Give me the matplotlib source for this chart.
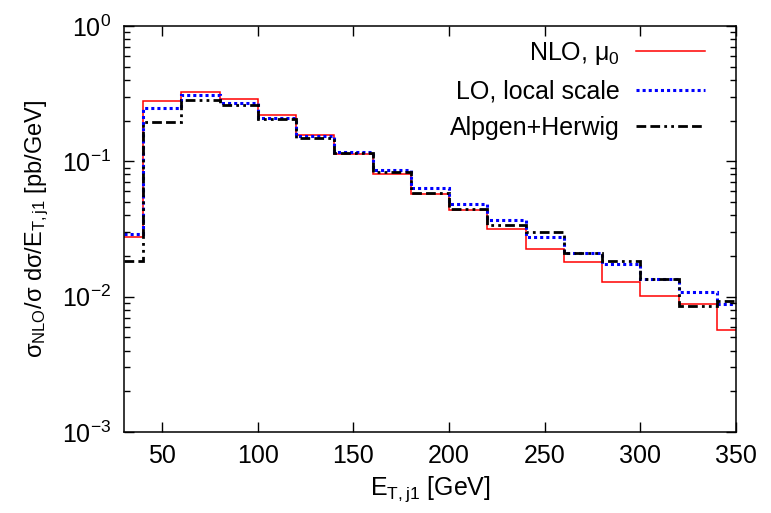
import numpy as np
import matplotlib
matplotlib.use("Agg")
import matplotlib.pyplot as plt
from matplotlib.ticker import LogLocator, FixedLocator, NullFormatter

plt.rcParams["font.family"] = "Liberation Sans"
plt.rcParams["mathtext.fontset"] = "custom"
plt.rcParams["mathtext.rm"] = "Liberation Sans"
plt.rcParams["mathtext.it"] = "Liberation Sans"
plt.rcParams["mathtext.default"] = "regular"
plt.rcParams["font.size"] = 18

# bin edges in E_T of leading jet [GeV]
edges = [30, 40, 60, 80, 100, 120, 140, 160, 180, 200, 220, 240, 260, 280, 300, 320, 340, 350]

nlo_mu0 = [0.0277, 0.279, 0.325, 0.287, 0.220, 0.156, 0.113, 0.0805, 0.0573, 0.0436,
           0.0314, 0.0225, 0.0179, 0.0129, 0.0102, 0.00877, 0.00566]
lo_local = [0.0289, 0.249, 0.307, 0.268, 0.208, 0.154, 0.117, 0.0863, 0.0638, 0.0483,
            0.0368, 0.0274, 0.0212, 0.0173, 0.0135, 0.0109, 0.0089]
alpgen_herwig = [0.0183, 0.196, 0.284, 0.259, 0.204, 0.150, 0.115, 0.083, 0.0586, 0.0444,
                 0.0337, 0.0299, 0.0212, 0.0185, 0.0135, 0.00857, 0.0093]

fig = plt.figure(figsize=(7.71, 5.13), dpi=100)
ax = fig.add_axes([0.1608, 0.1579, 0.7938, 0.7914])

ax.stairs(nlo_mu0, edges, baseline=None, color="#ff0000", lw=1.1, label=r"NLO, $\mu_0$")
ax.stairs(lo_local, edges, baseline=None, color="#0000ff", lw=2.2, linestyle=(0, (1, 1)),
          label="LO, local scale")
ax.stairs(alpgen_herwig, edges, baseline=None, color="black", lw=2.0,
          linestyle=(0, (3.5, 1.5, 3.5, 1.5, 1, 1.5, 1, 1.5)), label="Alpgen+Herwig")

ax.set_yscale("log")
ax.set_xlim(30, 350)
ax.set_ylim(1e-3, 1)

ax.xaxis.set_major_locator(FixedLocator([50, 100, 150, 200, 250, 300, 350]))
ax.yaxis.set_minor_locator(LogLocator(base=10, subs=np.arange(2, 10), numticks=10))
ax.yaxis.set_minor_formatter(NullFormatter())
ax.set_yticks([1e-3, 1e-2, 1e-1, 1])
ax.set_yticklabels([r"$10^{-3}$", r"$10^{-2}$", r"$10^{-1}$", r"$10^{0}$"])

ax.tick_params(which="both", direction="in", top=True, right=True)
ax.tick_params(which="major", length=7, width=1, pad=9)
ax.tick_params(which="minor", length=4, width=1)
for sp in ax.spines.values():
    sp.set_linewidth(1.1)

ax.set_xlabel(r"E$_{T,j1}$ [GeV]", labelpad=4)
ax.set_ylabel(r"$\sigma_{NLO}/\sigma\ d\sigma/E_{T,j1}$ [pb/GeV]", labelpad=8, fontsize=17)

ax.legend(loc="upper right", frameon=False, markerfirst=False, handlelength=2.75,
          labelspacing=0.5, borderaxespad=0.15, handletextpad=0.65,
          bbox_to_anchor=(0.972, 1.0))

fig.savefig("out.png", dpi=100)
